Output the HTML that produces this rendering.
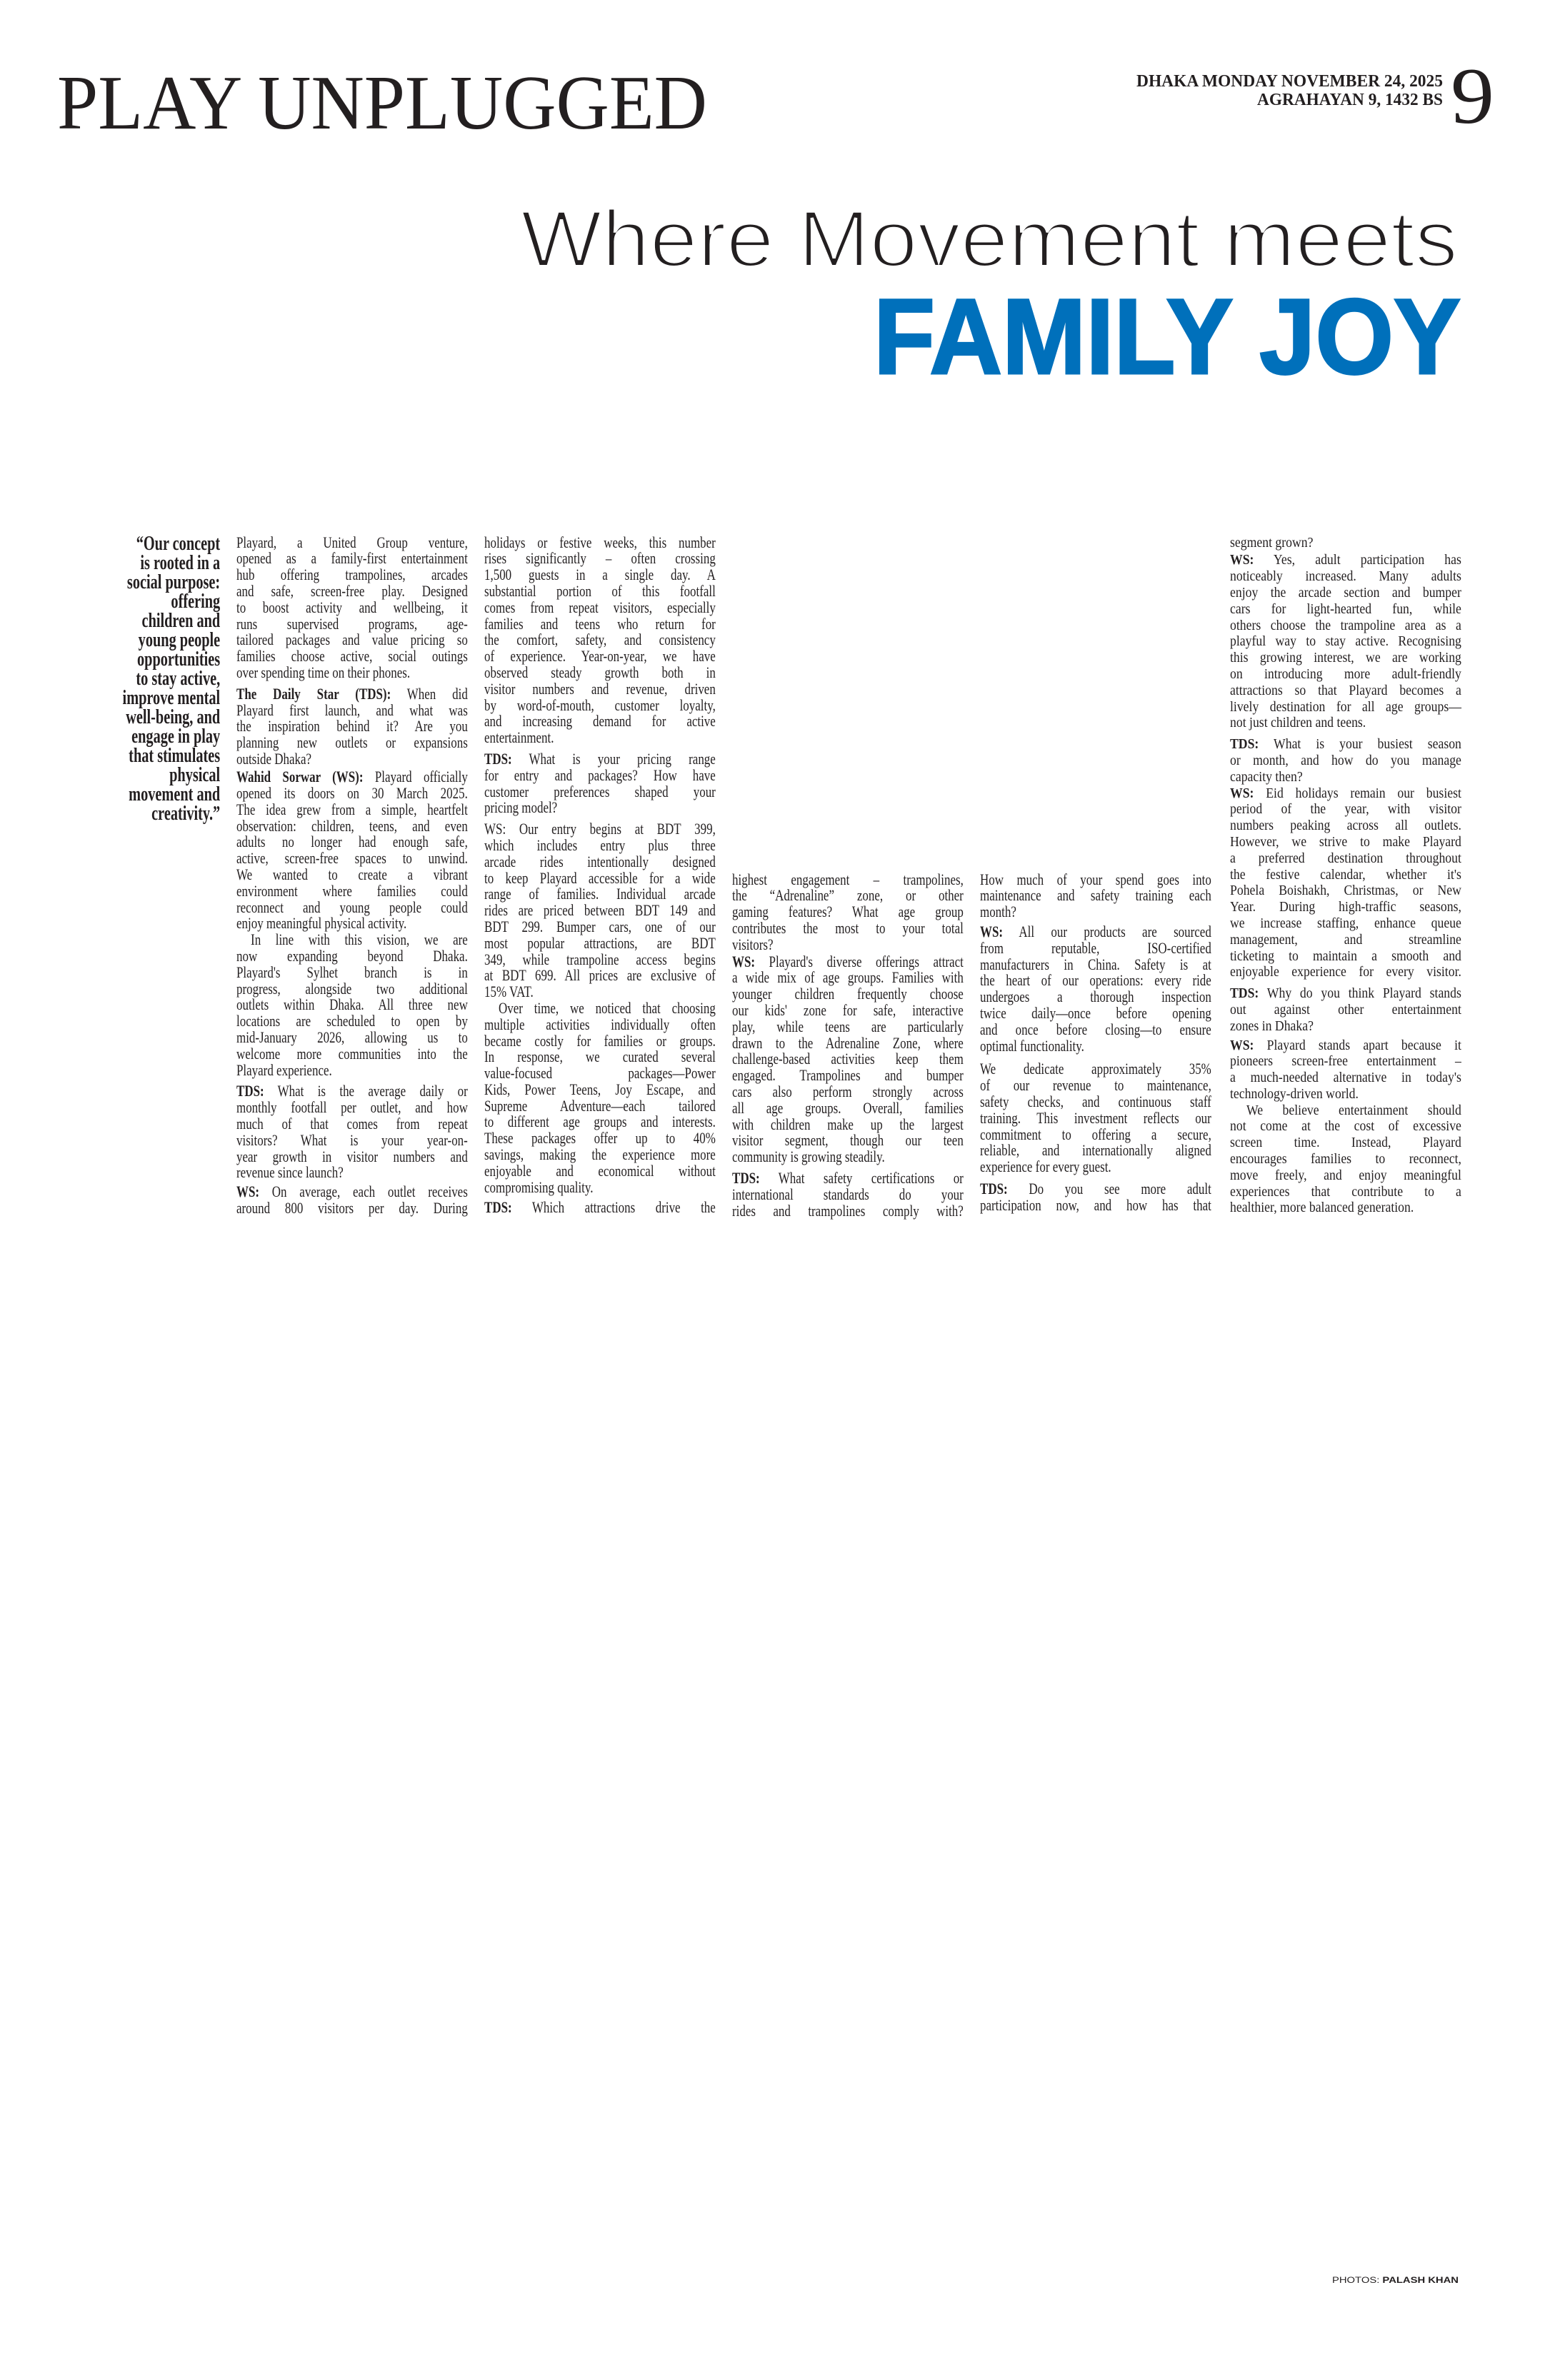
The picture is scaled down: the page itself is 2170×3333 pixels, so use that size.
<!DOCTYPE html>
<html><head><meta charset="utf-8">
<style>
html,body{margin:0;padding:0;background:#fff;}
body{width:2170px;height:3333px;position:relative;overflow:hidden;color:#231f20;}
.col{position:absolute;width:420px;transform-origin:0 0;transform:scaleX(0.771);font-family:"Liberation Serif",serif;font-size:22px;}
.col div{height:22.8px;line-height:22.8px;white-space:nowrap;text-align:justify;text-align-last:justify;}
.col div.l{text-align-last:left;}
.col div.i{padding-left:26px;}
.c5{width:366px;transform:scaleX(0.885);font-size:20px;}
.quote{position:absolute;right:1862px;top:748px;transform-origin:100% 0;transform:scaleX(0.7);font-family:"Liberation Serif",serif;font-weight:bold;font-size:29px;text-align:right;white-space:nowrap;}
.quote div{height:27px;line-height:27px;}
</style></head><body>
<svg width="2170" height="600" style="position:absolute;left:0;top:0">
<text x="80" y="180" font-family="Liberation Serif,serif" font-size="108" textLength="910" lengthAdjust="spacingAndGlyphs" fill="#231f20">PLAY UNPLUGGED</text>
<text x="2020" y="121" text-anchor="end" font-family="Liberation Serif,serif" font-weight="bold" font-size="24" textLength="429" lengthAdjust="spacingAndGlyphs" fill="#231f20">DHAKA MONDAY NOVEMBER 24, 2025</text>
<text x="2020" y="147" text-anchor="end" font-family="Liberation Serif,serif" font-weight="bold" font-size="24" textLength="260" lengthAdjust="spacingAndGlyphs" fill="#231f20">AGRAHAYAN 9, 1432 BS</text>
<text x="2031" y="172" font-family="Liberation Serif,serif" font-size="112" textLength="61" lengthAdjust="spacingAndGlyphs" fill="#231f20">9</text>
<text x="729" y="373" font-family="Liberation Sans,sans-serif" font-size="112" textLength="1312" lengthAdjust="spacingAndGlyphs" fill="#231f20" stroke="#fff" stroke-width="4">Where Movement meets</text>
<text x="1223" y="523" font-family="Liberation Sans,sans-serif" font-weight="bold" font-size="150" textLength="822" lengthAdjust="spacingAndGlyphs" fill="#0070bb" stroke="#0070bb" stroke-width="3">FAMILY JOY</text>
</svg>

<div class="quote">
<div>“Our concept</div><div>is rooted in a</div><div>social purpose:</div><div>offering</div><div>children and</div><div>young people</div><div>opportunities</div><div>to stay active,</div><div>improve mental</div><div>well-being, and</div><div>engage in play</div><div>that stimulates</div><div>physical</div><div>movement and</div><div>creativity.”</div>
</div>

<div class="col" style="left:331px;top:748.6px">
<div>Playard, a United Group venture,</div>
<div>opened as a family-first entertainment</div>
<div>hub offering trampolines, arcades</div>
<div>and safe, screen-free play. Designed</div>
<div>to boost activity and wellbeing, it</div>
<div>runs supervised programs, age-</div>
<div>tailored packages and value pricing so</div>
<div>families choose active, social outings</div>
<div class="l">over spending time on their phones.</div>
<div style="margin-top:7px"><b>The Daily Star (TDS):</b> When did</div>
<div>Playard first launch, and what was</div>
<div>the inspiration behind it? Are you</div>
<div>planning new outlets or expansions</div>
<div class="l">outside Dhaka?</div>
<div style="margin-top:2.5px"><b>Wahid Sorwar (WS):</b> Playard officially</div>
<div>opened its doors on 30 March 2025.</div>
<div>The idea grew from a simple, heartfelt</div>
<div>observation: children, teens, and even</div>
<div>adults no longer had enough safe,</div>
<div>active, screen-free spaces to unwind.</div>
<div>We wanted to create a vibrant</div>
<div>environment where families could</div>
<div>reconnect and young people could</div>
<div class="l">enjoy meaningful physical activity.</div>
<div class="i">In line with this vision, we are</div>
<div>now expanding beyond Dhaka.</div>
<div>Playard's Sylhet branch is in</div>
<div>progress, alongside two additional</div>
<div>outlets within Dhaka. All three new</div>
<div>locations are scheduled to open by</div>
<div>mid-January 2026, allowing us to</div>
<div>welcome more communities into the</div>
<div class="l">Playard experience.</div>
<div style="margin-top:7px"><b>TDS:</b> What is the average daily or</div>
<div>monthly footfall per outlet, and how</div>
<div>much of that comes from repeat</div>
<div>visitors? What is your year-on-</div>
<div>year growth in visitor numbers and</div>
<div class="l">revenue since launch?</div>
<div style="margin-top:4px"><b>WS:</b> On average, each outlet receives</div>
<div>around 800 visitors per day. During</div>
</div>

<div class="col" style="left:678px;top:748.6px">
<div>holidays or festive weeks, this number</div>
<div>rises significantly – often crossing</div>
<div>1,500 guests in a single day. A</div>
<div>substantial portion of this footfall</div>
<div>comes from repeat visitors, especially</div>
<div>families and teens who return for</div>
<div>the comfort, safety, and consistency</div>
<div>of experience. Year-on-year, we have</div>
<div>observed steady growth both in</div>
<div>visitor numbers and revenue, driven</div>
<div>by word-of-mouth, customer loyalty,</div>
<div>and increasing demand for active</div>
<div class="l">entertainment.</div>
<div style="margin-top:7px"><b>TDS:</b> What is your pricing range</div>
<div>for entry and packages? How have</div>
<div>customer preferences shaped your</div>
<div class="l">pricing model?</div>
<div style="margin-top:7px">WS: Our entry begins at BDT 399,</div>
<div>which includes entry plus three</div>
<div>arcade rides intentionally designed</div>
<div>to keep Playard accessible for a wide</div>
<div>range of families. Individual arcade</div>
<div>rides are priced between BDT 149 and</div>
<div>BDT 299. Bumper cars, one of our</div>
<div>most popular attractions, are BDT</div>
<div>349, while trampoline access begins</div>
<div>at BDT 699. All prices are exclusive of</div>
<div class="l">15% VAT.</div>
<div class="i">Over time, we noticed that choosing</div>
<div>multiple activities individually often</div>
<div>became costly for families or groups.</div>
<div>In response, we curated several</div>
<div>value-focused packages—Power</div>
<div>Kids, Power Teens, Joy Escape, and</div>
<div>Supreme Adventure—each tailored</div>
<div>to different age groups and interests.</div>
<div>These packages offer up to 40%</div>
<div>savings, making the experience more</div>
<div>enjoyable and economical without</div>
<div class="l">compromising quality.</div>
<div style="margin-top:5.5px"><b>TDS:</b> Which attractions drive the</div>
</div>

<div class="col" style="left:1025px;top:1220.6px">
<div>highest engagement – trampolines,</div>
<div>the “Adrenaline” zone, or other</div>
<div>gaming features? What age group</div>
<div>contributes the most to your total</div>
<div class="l">visitors?</div>
<div style="margin-top:1px"><b>WS:</b> Playard's diverse offerings attract</div>
<div>a wide mix of age groups. Families with</div>
<div>younger children frequently choose</div>
<div>our kids' zone for safe, interactive</div>
<div>play, while teens are particularly</div>
<div>drawn to the Adrenaline Zone, where</div>
<div>challenge-based activities keep them</div>
<div>engaged. Trampolines and bumper</div>
<div>cars also perform strongly across</div>
<div>all age groups. Overall, families</div>
<div>with children make up the largest</div>
<div>visitor segment, though our teen</div>
<div class="l">community is growing steadily.</div>
<div style="margin-top:7px"><b>TDS:</b> What safety certifications or</div>
<div>international standards do your</div>
<div>rides and trampolines comply with?</div>
</div>

<div class="col" style="left:1372px;top:1220.6px">
<div>How much of your spend goes into</div>
<div>maintenance and safety training each</div>
<div class="l">month?</div>
<div style="margin-top:5px"><b>WS:</b> All our products are sourced</div>
<div>from reputable, ISO-certified</div>
<div>manufacturers in China. Safety is at</div>
<div>the heart of our operations: every ride</div>
<div>undergoes a thorough inspection</div>
<div>twice daily—once before opening</div>
<div>and once before closing—to ensure</div>
<div class="l">optimal functionality.</div>
<div style="margin-top:10px">We dedicate approximately 35%</div>
<div>of our revenue to maintenance,</div>
<div>safety checks, and continuous staff</div>
<div>training. This investment reflects our</div>
<div>commitment to offering a secure,</div>
<div>reliable, and internationally aligned</div>
<div class="l">experience for every guest.</div>
<div style="margin-top:8px"><b>TDS:</b> Do you see more adult</div>
<div>participation now, and how has that</div>
</div>

<div class="col c5" style="left:1722px;top:748.6px">
<div class="l">segment grown?</div>
<div style="margin-top:2px"><b>WS:</b> Yes, adult participation has</div>
<div>noticeably increased. Many adults</div>
<div>enjoy the arcade section and bumper</div>
<div>cars for light-hearted fun, while</div>
<div>others choose the trampoline area as a</div>
<div>playful way to stay active. Recognising</div>
<div>this growing interest, we are working</div>
<div>on introducing more adult-friendly</div>
<div>attractions so that Playard becomes a</div>
<div>lively destination for all age groups—</div>
<div class="l">not just children and teens.</div>
<div style="margin-top:7px"><b>TDS:</b> What is your busiest season</div>
<div>or month, and how do you manage</div>
<div class="l">capacity then?</div>
<div><b>WS:</b> Eid holidays remain our busiest</div>
<div>period of the year, with visitor</div>
<div>numbers peaking across all outlets.</div>
<div>However, we strive to make Playard</div>
<div>a preferred destination throughout</div>
<div>the festive calendar, whether it's</div>
<div>Pohela Boishakh, Christmas, or New</div>
<div>Year. During high-traffic seasons,</div>
<div>we increase staffing, enhance queue</div>
<div>management, and streamline</div>
<div>ticketing to maintain a smooth and</div>
<div>enjoyable experience for every visitor.</div>
<div style="margin-top:7px"><b>TDS:</b> Why do you think Playard stands</div>
<div>out against other entertainment</div>
<div class="l">zones in Dhaka?</div>
<div style="margin-top:4px"><b>WS:</b> Playard stands apart because it</div>
<div>pioneers screen-free entertainment –</div>
<div>a much-needed alternative in today's</div>
<div class="l">technology-driven world.</div>
<div class="i">We believe entertainment should</div>
<div>not come at the cost of excessive</div>
<div>screen time. Instead, Playard</div>
<div>encourages families to reconnect,</div>
<div>move freely, and enjoy meaningful</div>
<div>experiences that contribute to a</div>
<div class="l">healthier, more balanced generation.</div>
</div>

<svg width="2170" height="40" style="position:absolute;left:0;top:3175px">
<text x="1865" y="22" font-family="Liberation Sans,sans-serif" font-size="12" textLength="177" lengthAdjust="spacingAndGlyphs" fill="#231f20">PHOTOS: <tspan font-weight="bold">PALASH KHAN</tspan></text>
</svg>
</body></html>
